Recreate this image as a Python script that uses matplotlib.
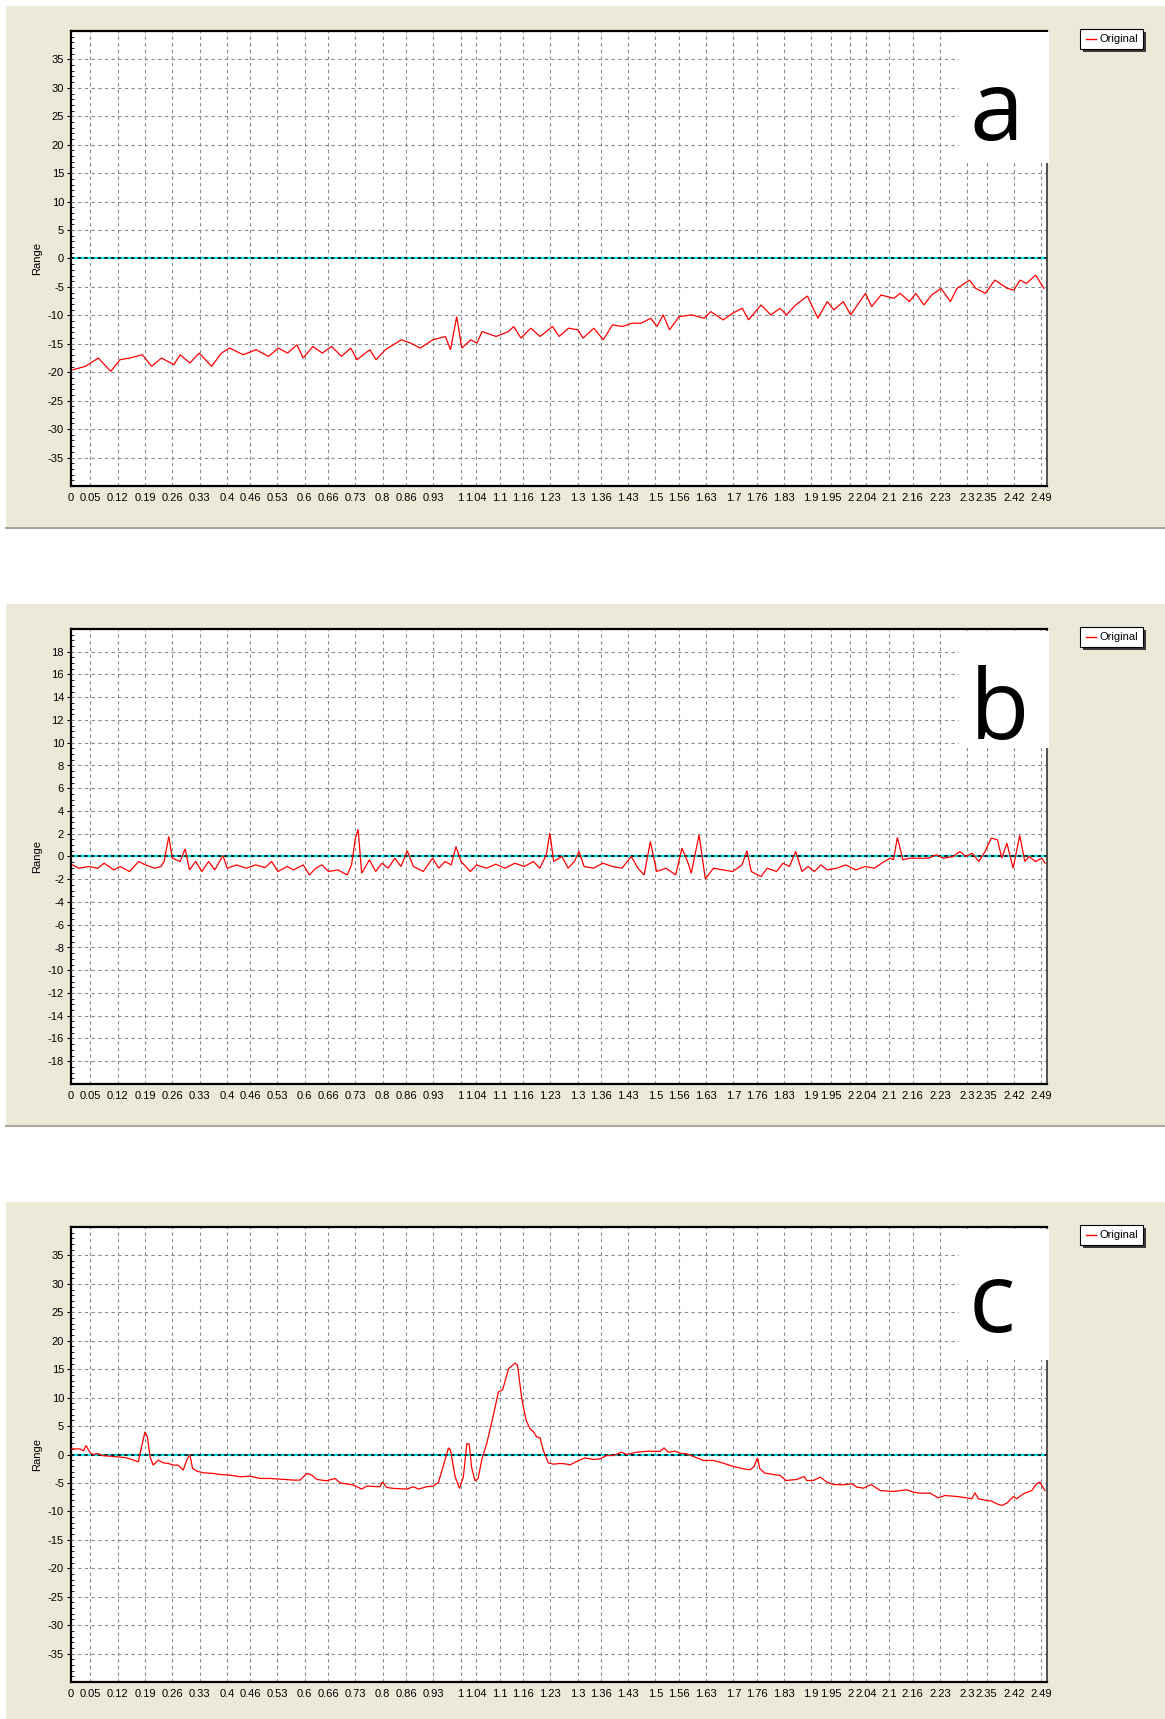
import matplotlib
matplotlib.use("Agg")
import matplotlib.pyplot as plt
from matplotlib.patches import Rectangle
from matplotlib.lines import Line2D
from matplotlib.ticker import MultipleLocator

# ---------------- data ----------------
x_tick_values = [0, 0.05, 0.12, 0.19, 0.26, 0.33, 0.4, 0.46, 0.53, 0.6, 0.66, 0.73, 0.8, 0.86, 0.93,
                 1, 1.04, 1.1, 1.16, 1.23, 1.3, 1.36, 1.43, 1.5, 1.56, 1.63, 1.7, 1.76, 1.83, 1.9,
                 1.95, 2, 2.04, 2.1, 2.16, 2.23, 2.3, 2.35, 2.42, 2.49]
x_tick_labels = [str(v) for v in x_tick_values]
series_name = "Original"
panel_letters = ["a", "b", "c"]

a_x = [0.005, 0.037, 0.070, 0.102, 0.126, 0.151, 0.183, 0.207, 0.232, 0.264,
       0.280, 0.305, 0.329, 0.361, 0.386, 0.407, 0.442, 0.475, 0.507, 0.532,
       0.556, 0.580, 0.596, 0.621, 0.645, 0.669, 0.694, 0.718, 0.734, 0.767,
       0.783, 0.807, 0.848, 0.872, 0.896, 0.929, 0.961, 0.974, 0.990, 1.003,
       1.026, 1.042, 1.055, 1.091, 1.123, 1.136, 1.155, 1.180, 1.204, 1.236,
       1.253, 1.277, 1.301, 1.314, 1.342, 1.366, 1.390, 1.415, 1.439, 1.463,
       1.488, 1.504, 1.520, 1.536, 1.561, 1.593, 1.625, 1.642, 1.674, 1.698,
       1.723, 1.739, 1.771, 1.796, 1.820, 1.836, 1.860, 1.890, 1.917, 1.941,
       1.958, 1.982, 2.001, 2.039, 2.055, 2.079, 2.112, 2.128, 2.152, 2.168,
       2.189, 2.209, 2.233, 2.257, 2.274, 2.306, 2.322, 2.347, 2.371, 2.403,
       2.420, 2.436, 2.452, 2.476, 2.497]
a_y = [-19.55, -18.96, -17.50, -19.84, -17.79, -17.50, -16.92, -18.96, -17.50, -18.67,
       -16.92, -18.38, -16.63, -18.96, -16.63, -15.75, -16.92, -16.04, -17.21, -15.75,
       -16.63, -15.17, -17.50, -15.46, -16.63, -15.46, -17.21, -15.75, -17.79, -16.04,
       -17.79, -16.04, -14.29, -14.88, -15.75, -14.29, -13.71, -16.04, -10.21, -15.75,
       -14.29, -14.88, -12.84, -13.71, -12.84, -11.96, -14.00, -12.25, -13.71, -11.96,
       -13.71, -12.25, -12.54, -14.00, -12.25, -14.29, -11.67, -11.96, -11.38, -11.38,
       -10.50, -11.96, -9.92, -12.54, -10.21, -9.92, -10.50, -9.33, -10.79, -9.63,
       -8.75, -10.79, -8.17, -9.92, -8.75, -9.92, -8.17, -6.59, -10.50, -7.58,
       -9.04, -7.58, -9.92, -6.13, -8.46, -6.42, -7.00, -6.13, -7.58, -6.13,
       -8.17, -6.42, -5.25, -7.58, -5.25, -3.79, -5.25, -6.13, -3.79, -5.25,
       -5.54, -3.79, -4.38, -2.92, -5.25]

b_x = [0.004, 0.020, 0.045, 0.069, 0.085, 0.110, 0.126, 0.150, 0.174, 0.191,
       0.215, 0.231, 0.239, 0.251, 0.260, 0.280, 0.293, 0.304, 0.320, 0.336,
       0.353, 0.369, 0.390, 0.401, 0.425, 0.450, 0.474, 0.498, 0.515, 0.531,
       0.555, 0.571, 0.596, 0.612, 0.628, 0.644, 0.661, 0.685, 0.709, 0.720,
       0.730, 0.737, 0.746, 0.766, 0.782, 0.798, 0.814, 0.831, 0.847, 0.863,
       0.879, 0.904, 0.928, 0.944, 0.960, 0.976, 0.988, 1.001, 1.025, 1.041,
       1.066, 1.090, 1.114, 1.139, 1.163, 1.187, 1.203, 1.220, 1.229, 1.239,
       1.260, 1.276, 1.292, 1.304, 1.317, 1.341, 1.365, 1.390, 1.414, 1.438,
       1.455, 1.471, 1.487, 1.503, 1.527, 1.552, 1.568, 1.584, 1.592, 1.612,
       1.628, 1.649, 1.673, 1.698, 1.722, 1.735, 1.746, 1.771, 1.787, 1.811,
       1.827, 1.844, 1.860, 1.876, 1.892, 1.908, 1.925, 1.941, 1.965, 1.989,
       2.014, 2.038, 2.062, 2.087, 2.103, 2.111, 2.121, 2.135, 2.151, 2.176,
       2.200, 2.221, 2.240, 2.265, 2.281, 2.297, 2.313, 2.330, 2.346, 2.362,
       2.378, 2.389, 2.402, 2.418, 2.435, 2.448, 2.459, 2.475, 2.492, 2.500]
b_y = [-0.74, -1.03, -0.88, -1.03, -0.59, -1.18, -0.88, -1.32, -0.44, -0.74,
       -1.03, -0.88, -0.44, 1.76, -0.15, -0.44, 0.68, -1.18, -0.44, -1.32,
       -0.44, -1.18, 0.09, -1.03, -0.74, -1.03, -0.74, -0.97, -0.44, -1.32,
       -0.88, -1.18, -0.74, -1.62, -1.03, -0.74, -1.32, -1.18, -1.62, -0.74,
       1.62, 2.38, -1.47, -0.29, -1.32, -0.59, -1.03, -0.15, -0.88, 0.50,
       -0.88, -1.32, -0.15, -1.03, -0.44, -0.74, 0.88, -0.44, -1.32, -0.74,
       -1.03, -0.68, -1.03, -0.59, -0.88, -0.44, -1.03, 0.15, 2.06, -0.44,
       0.00, -1.03, -0.44, 0.44, -0.88, -1.03, -0.59, -0.88, -1.03, 0.00,
       -1.03, -1.62, 1.32, -1.32, -1.03, -1.62, 0.74, -0.59, -1.47, 1.91,
       -1.97, -1.03, -1.18, -1.32, -0.74, 0.50, -1.32, -1.76, -1.03, -1.32,
       -0.59, -0.88, 0.44, -1.32, -0.88, -1.32, -0.74, -1.18, -1.03, -0.74,
       -1.18, -0.88, -1.03, -0.44, -0.15, -0.29, 1.68, -0.29, -0.15, -0.15,
       -0.15, 0.15, -0.15, 0.00, 0.44, 0.00, 0.29, -0.44, 0.44, 1.62,
       1.47, -0.15, 1.18, -1.03, 1.85, -0.44, 0.00, -0.44, -0.15, -0.59]

c_x = [0.002, 0.023, 0.032, 0.039, 0.044, 0.051, 0.057, 0.066, 0.073, 0.079,
       0.083, 0.100, 0.117, 0.139, 0.156, 0.173, 0.181, 0.190, 0.196, 0.203,
       0.211, 0.224, 0.237, 0.250, 0.263, 0.275, 0.288, 0.297, 0.305, 0.312,
       0.323, 0.340, 0.365, 0.382, 0.408, 0.434, 0.459, 0.485, 0.511, 0.536,
       0.571, 0.588, 0.605, 0.618, 0.631, 0.656, 0.678, 0.690, 0.725, 0.746,
       0.759, 0.793, 0.799, 0.810, 0.827, 0.862, 0.879, 0.892, 0.913, 0.930,
       0.943, 0.951, 0.969, 0.974, 0.986, 0.997, 1.007, 1.016, 1.022, 1.028,
       1.037, 1.045, 1.054, 1.067, 1.084, 1.097, 1.108, 1.123, 1.140, 1.146,
       1.157, 1.168, 1.178, 1.187, 1.195, 1.204, 1.212, 1.225, 1.238, 1.255,
       1.268, 1.281, 1.294, 1.319, 1.341, 1.358, 1.375, 1.392, 1.413, 1.426,
       1.452, 1.486, 1.512, 1.522, 1.533, 1.550, 1.563, 1.580, 1.597, 1.623,
       1.649, 1.674, 1.700, 1.726, 1.743, 1.753, 1.762, 1.768, 1.781, 1.803,
       1.820, 1.835, 1.863, 1.882, 1.888, 1.905, 1.923, 1.940, 1.957, 1.982,
       2.004, 2.017, 2.034, 2.053, 2.077, 2.111, 2.145, 2.162, 2.179, 2.205,
       2.226, 2.243, 2.273, 2.299, 2.312, 2.320, 2.329, 2.351, 2.363, 2.376,
       2.389, 2.402, 2.419, 2.427, 2.444, 2.466, 2.478, 2.487, 2.493, 2.500]
c_y = [0.99, 0.99, 0.64, 1.58, 0.88, 0.18, 0.00, 0.18, 0.06, -0.12,
       -0.23, -0.29, -0.41, -0.53, -0.88, -1.29, 1.35, 3.98, 3.10, -0.41,
       -1.87, -0.99, -1.46, -1.58, -1.87, -1.87, -2.75, -0.99, 0.00, -2.46,
       -2.92, -3.22, -3.33, -3.51, -3.63, -3.92, -3.80, -4.21, -4.21, -4.33,
       -4.50, -4.50, -3.33, -3.63, -4.39, -4.62, -4.21, -4.97, -5.38, -6.08,
       -5.56, -5.67, -4.80, -5.79, -5.96, -6.08, -5.67, -6.08, -5.67, -5.56,
       -4.91, -3.04, 1.17, 0.76, -3.92, -5.96, -3.92, 1.93, 1.81, -2.16,
       -4.62, -4.21, -0.99, 1.93, 6.90, 10.99, 11.40, 15.09, 16.08, 15.67,
       9.82, 6.02, 4.56, 3.98, 3.10, 2.92, 0.76, -1.46, -1.70, -1.58,
       -1.64, -1.82, -1.35, -0.59, -0.88, -0.76, -0.18, -0.18, 0.41, 0.00,
       0.41, 0.59, 0.53, 1.17, 0.41, 0.59, 0.23, 0.12, -0.35, -1.05,
       -1.05, -1.52, -2.11, -2.52, -2.69, -2.11, -0.59, -2.52, -3.28, -3.51,
       -3.69, -4.57, -4.39, -3.87, -4.57, -4.57, -3.98, -4.86, -5.27, -5.33,
       -5.16, -5.74, -5.92, -5.27, -6.33, -6.50, -6.21, -6.62, -6.80, -6.80,
       -7.62, -7.21, -7.38, -7.62, -7.79, -6.74, -7.79, -8.08, -8.20, -8.67,
       -8.96, -8.55, -7.38, -7.79, -6.91, -6.33, -5.16, -4.86, -5.62, -6.33]

a_yticks = list(range(-35, 40, 5))
b_yticks = list(range(-18, 20, 2))
c_yticks = list(range(-35, 40, 5))

# ---------------- layout (pixels) ----------------
W, H = 1165, 1719
fig = plt.figure(figsize=(W / 100, H / 100), dpi=100)
fig.patch.set_facecolor("white")

BEIGE = "#ECE9D8"
TICK_FONT = ["Liberation Sans", "DejaVu Sans"]
XTICK_FONT = ["Liberation Sans Narrow", "Liberation Sans", "DejaVu Sans"]


def fx(px):
    return px / W


def fy(py):
    return 1 - py / H


panels = [
    dict(x=a_x, y=a_y, yt=a_yticks, ylim=40, minor=1, bg=(6, 528), ax_top=31,
         box=(959, 32.5, 1049, 163), letter_base=140, letter_x=997, border=True),
    dict(x=b_x, y=b_y, yt=b_yticks, ylim=20, minor=0.5, bg=(604, 1126), ax_top=629,
         box=(959, 630.5, 1049, 748), letter_base=739, letter_x=999, border=True),
    dict(x=c_x, y=c_y, yt=c_yticks, ylim=40, minor=1, bg=(1202, 1719), ax_top=1227,
         box=(959, 1228.5, 1049, 1360), letter_base=1332, letter_x=992, border=False),
]

AX_L, AX_R, AX_H = 71, 1047, 455

for i, p in enumerate(panels):
    top_bg, bot_bg = p["bg"]
    fig.add_artist(Rectangle((fx(6), fy(bot_bg)), fx(W - 6), (bot_bg - top_bg) / H,
                             transform=fig.transFigure, facecolor=BEIGE,
                             edgecolor="none", zorder=0))
    if p["border"]:
        fig.add_artist(Line2D([fx(6), 1], [fy(bot_bg), fy(bot_bg)],
                              transform=fig.transFigure, color="#A9A799",
                              lw=1.5, zorder=1))

    top = p["ax_top"]
    ax = fig.add_axes([fx(AX_L), fy(top + AX_H), fx(AX_R - AX_L), AX_H / H])
    ax.set_facecolor("white")
    ax.set_xlim(0, 2.505)
    ax.set_ylim(-p["ylim"], p["ylim"])
    ax.set_xticks(x_tick_values)
    ax.set_xticklabels(x_tick_labels, fontsize=8, fontfamily=XTICK_FONT)
    ax.set_yticks(p["yt"])
    ax.set_yticklabels([str(v) for v in p["yt"]], fontsize=8, fontfamily=TICK_FONT)
    ax.yaxis.set_minor_locator(MultipleLocator(p["minor"]))
    ax.tick_params(axis="x", length=0, pad=5, colors="black")
    ax.tick_params(axis="y", which="major", length=3, width=0.8, pad=2, direction="out")
    ax.tick_params(axis="y", which="minor", length=2, width=0.6, direction="in")
    ax.grid(True, which="major", color="#8a8a8a", linestyle=(0, (3, 3)), linewidth=0.8)
    ax.set_axisbelow(True)
    for side in ["left", "bottom", "top"]:
        ax.spines[side].set_linewidth(1.6)
        ax.spines[side].set_color("black")
    ax.spines["right"].set_linewidth(1.2)
    ax.spines["right"].set_color("#333333")

    ax.set_ylabel("Range", fontsize=8, fontfamily=TICK_FONT)
    ax.yaxis.set_label_coords(-(AX_L - 42) / (AX_R - AX_L), 0.5)

    # zero line: cyan with black dashes
    ax.axhline(0, color="#00E5EE", lw=1.5, zorder=2)
    ax.axhline(0, color="black", lw=1.2, linestyle=(0, (2, 2)), zorder=2.1)

    ax.plot(p["x"], p["y"], color="#FF0000", lw=0.9, zorder=3, solid_joinstyle="miter")

    # white box with panel letter
    bx0, by0, bx1, by1 = p["box"]
    fig.add_artist(Rectangle((fx(bx0), fy(by1)), fx(bx1 - bx0), (by1 - by0) / H,
                             transform=fig.transFigure, facecolor="white",
                             edgecolor="none", zorder=5))
    fig.text(fx(p["letter_x"]), fy(p["letter_base"]), panel_letters[i],
             fontsize=70, fontfamily=["Open Sans", "DejaVu Sans"], ha="center",
             va="baseline", color="black", zorder=6)

    # legend box with shadow
    lx0, ly0, lx1, ly1 = 1080, top - 2, 1143, top + 18
    fig.add_artist(Rectangle((fx(lx0 + 3), fy(ly1 + 3)), fx(lx1 - lx0), (ly1 - ly0) / H,
                             transform=fig.transFigure, facecolor="#3a3a3a",
                             edgecolor="none", zorder=6))
    fig.add_artist(Rectangle((fx(lx0), fy(ly1)), fx(lx1 - lx0), (ly1 - ly0) / H,
                             transform=fig.transFigure, facecolor="white",
                             edgecolor="black", lw=0.8, zorder=7))
    ymid = (ly0 + ly1) / 2
    fig.add_artist(Line2D([fx(1085.5), fx(1095.5)], [fy(ymid), fy(ymid)],
                          transform=fig.transFigure, color="#FF0000", lw=1.0, zorder=8))
    fig.text(fx(1099), fy(ymid), series_name, fontsize=8, fontfamily=TICK_FONT,
             ha="left", va="center", zorder=8)

fig.savefig("out.png", dpi=100, facecolor=fig.get_facecolor())
